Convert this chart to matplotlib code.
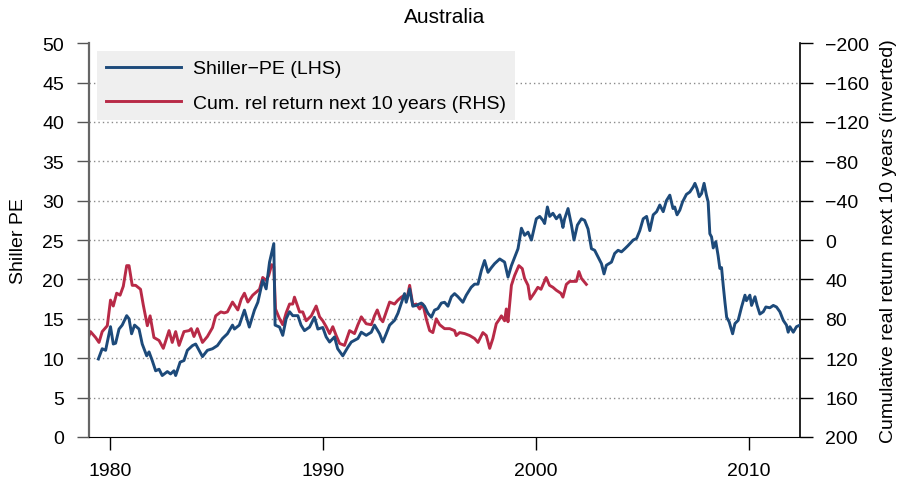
import matplotlib.pyplot as plt
import numpy as np

plt.rcParams['font.family'] = ['Liberation Sans', 'DejaVu Sans']

# Shiller PE (left axis)
pe_years = [1979.44, 1979.62, 1979.78, 1980.01, 1980.14, 1980.25, 1980.41, 1980.56, 1980.77, 1980.88,
            1981.00, 1981.14, 1981.35, 1981.50, 1981.71, 1981.82, 1981.97, 1982.13, 1982.29, 1982.44,
            1982.68, 1982.83, 1982.99, 1983.07, 1983.28, 1983.46, 1983.62, 1983.86, 1984.01, 1984.33,
            1984.56, 1984.80, 1985.03, 1985.27, 1985.50, 1985.74, 1985.83, 1986.06, 1986.30, 1986.53,
            1986.77, 1986.93, 1987.16, 1987.32, 1987.48, 1987.68, 1987.74, 1987.95, 1988.10, 1988.26,
            1988.42, 1988.57, 1988.81, 1988.96, 1989.12, 1989.36, 1989.59, 1989.75, 1989.98, 1990.14,
            1990.30, 1990.53, 1990.68, 1990.92, 1991.16, 1991.32, 1991.63, 1991.79, 1992.02, 1992.26,
            1992.41, 1992.65, 1992.80, 1992.96, 1993.12, 1993.35, 1993.51, 1993.67, 1993.82, 1993.90,
            1994.06, 1994.21, 1994.37, 1994.61, 1994.76, 1994.92, 1995.08, 1995.23, 1995.39, 1995.55,
            1995.70, 1995.86, 1996.02, 1996.17, 1996.33, 1996.56, 1996.72, 1996.95, 1997.11, 1997.27,
            1997.43, 1997.58, 1997.74, 1997.90, 1998.05, 1998.29, 1998.52, 1998.68, 1998.84, 1998.99,
            1999.15, 1999.31, 1999.46, 1999.62, 1999.78, 2000.01, 2000.17, 2000.32, 2000.40, 2000.53,
            2000.64, 2000.79, 2000.95, 2001.11, 2001.19, 2001.26, 2001.34, 2001.50, 2001.66, 2001.78,
            2001.94, 2002.13, 2002.28, 2002.44, 2002.60, 2002.75, 2002.91, 2003.07, 2003.19, 2003.30,
            2003.54, 2003.69, 2003.85, 2004.01, 2004.17, 2004.32, 2004.56, 2004.72, 2004.87, 2005.03,
            2005.19, 2005.34, 2005.50, 2005.66, 2005.81, 2005.97, 2006.12, 2006.28, 2006.43, 2006.51,
            2006.62, 2006.75, 2006.88, 2007.06, 2007.22, 2007.38, 2007.46, 2007.56, 2007.66, 2007.77,
            2007.89, 2008.00, 2008.08, 2008.16, 2008.24, 2008.32, 2008.44, 2008.55, 2008.63, 2008.71,
            2008.79, 2008.87, 2008.95, 2009.07, 2009.23, 2009.34, 2009.49, 2009.65, 2009.81, 2009.88,
            2010.04, 2010.12, 2010.28, 2010.38, 2010.51, 2010.67, 2010.79, 2010.98, 2011.14, 2011.29,
            2011.45, 2011.61, 2011.76, 2011.84, 2011.92, 2012.08, 2012.23, 2012.39]
pe_values = [9.9, 11.2, 11.0, 14.0, 11.8, 11.9, 13.7, 14.2, 15.4, 15.0,
             13.1, 14.2, 13.7, 11.8, 10.3, 10.8, 9.7, 8.4, 8.6, 7.8,
             8.3, 8.0, 8.4, 7.8, 9.5, 9.7, 11.0, 11.6, 11.8, 10.2,
             11.0, 11.2, 11.6, 12.5, 13.1, 14.2, 13.7, 14.2, 16.1, 13.95,
             16.1, 17.1, 19.9, 18.8, 22.2, 24.55, 14.2, 13.95, 12.9, 15.0,
             15.9, 15.4, 15.4, 14.2, 13.5, 13.95, 15.2, 13.7, 13.9, 12.7,
             12.05, 12.7, 11.2, 10.3, 11.4, 12.05, 12.5, 13.3, 12.9, 13.3,
             14.2, 13.1, 12.05, 13.1, 14.2, 14.8, 15.7, 17.0, 18.2, 17.1,
             18.8, 16.6, 16.7, 17.0, 16.6, 15.7, 15.2, 16.1, 16.3, 17.0,
             17.1, 16.6, 17.8, 18.2, 17.8, 17.1, 18.0, 19.0, 19.4, 19.4,
             21.15, 22.4, 20.9, 21.5, 22.0, 22.6, 22.2, 20.3, 21.75, 22.8,
             23.9, 26.5, 25.6, 26.0, 25.0, 27.7, 28.0, 27.5, 27.1, 29.2,
             28.0, 28.4, 27.7, 28.2, 27.5, 26.6, 27.7, 29.0, 26.9, 25.0,
             26.9, 27.7, 27.5, 26.4, 23.9, 23.7, 22.85, 22.0, 20.7, 21.8,
             22.2, 23.3, 23.7, 23.5, 23.9, 24.3, 25.0, 25.2, 26.2, 27.7,
             28.0, 26.2, 28.2, 28.6, 29.45, 28.6, 30.0, 30.7, 29.0, 29.2,
             28.2, 28.8, 29.85, 30.8, 31.1, 31.75, 32.2, 31.5, 30.5, 30.9,
             32.2, 30.7, 29.85, 25.8, 25.4, 24.0, 24.8, 23.0, 21.4, 21.5,
             19.2, 17.1, 15.2, 14.6, 13.1, 14.4, 14.8, 16.5, 18.0, 17.3,
             18.0, 16.7, 17.8, 16.7, 15.6, 15.9, 16.5, 16.4, 16.7, 16.5,
             15.9, 14.8, 14.2, 13.3, 14.0, 13.3, 14.0, 14.2]

# Cumulative relative return next 10 years (right axis, inverted)
ret_years = [1978.92, 1979.07, 1979.31, 1979.47, 1979.62, 1979.86, 1980.01, 1980.14, 1980.30, 1980.46,
             1980.61, 1980.77, 1980.88, 1981.03, 1981.19, 1981.42, 1981.55, 1981.74, 1981.87, 1982.05,
             1982.29, 1982.49, 1982.76, 1982.91, 1983.07, 1983.23, 1983.46, 1983.70, 1983.80, 1983.93,
             1984.09, 1984.33, 1984.56, 1984.80, 1984.95, 1985.19, 1985.35, 1985.50, 1985.74, 1985.99,
             1986.15, 1986.30, 1986.46, 1986.69, 1986.85, 1987.01, 1987.16, 1987.32, 1987.44, 1987.58,
             1987.68, 1987.76, 1987.95, 1988.10, 1988.26, 1988.42, 1988.57, 1988.65, 1988.89, 1989.04,
             1989.20, 1989.44, 1989.67, 1989.83, 1989.98, 1990.14, 1990.30, 1990.45, 1990.61, 1990.77,
             1991.00, 1991.24, 1991.47, 1991.63, 1991.79, 1992.02, 1992.26, 1992.41, 1992.54, 1992.69,
             1992.80, 1992.96, 1993.12, 1993.35, 1993.51, 1993.67, 1993.82, 1993.93, 1994.06, 1994.21,
             1994.37, 1994.53, 1994.68, 1994.84, 1995.00, 1995.15, 1995.31, 1995.47, 1995.70, 1995.94,
             1996.17, 1996.25, 1996.41, 1996.64, 1996.88, 1997.11, 1997.27, 1997.50, 1997.66, 1997.82,
             1997.97, 1998.13, 1998.29, 1998.37, 1998.52, 1998.60, 1998.68, 1998.84, 1998.99, 1999.19,
             1999.35, 1999.46, 1999.62, 1999.72, 1999.91, 2000.08, 2000.23, 2000.47, 2000.63, 2000.79,
             2000.95, 2001.16, 2001.26, 2001.42, 2001.58, 2001.73, 2001.89, 2002.01, 2002.13, 2002.36]
ret_values = [102, 93, 99, 104, 93, 87, 61, 67, 54, 56,
              47, 26, 26, 46, 46, 50, 66, 87, 77, 99,
              102, 110, 92, 104, 93, 107, 93, 92, 90, 98,
              90, 104, 98, 89, 77, 73, 74, 73, 63, 71,
              60, 54, 63, 56, 53, 50, 38, 41, 36, 25,
              27, 70, 80, 86, 74, 65, 65, 58, 73, 73,
              82, 77, 67, 78, 82, 88, 95, 88, 97, 105,
              107, 92, 95, 86, 78, 85, 86, 77, 71, 80,
              83, 73, 63, 65, 61, 58, 56, 60, 46, 66,
              65, 70, 65, 80, 92, 94, 80, 86, 90, 90,
              92, 97, 94, 95, 97, 100, 104, 94, 97, 110,
              100, 85, 80, 77, 82, 70, 83, 46, 36, 26,
              29, 39, 46, 60, 54, 48, 50, 38, 46, 48,
              51, 54, 58, 45, 42, 42, 42, 32, 39, 45]

pe_ticks = np.arange(0, 51, 5)
ret_ticks = np.arange(-200, 201, 40)
year_ticks = [1980, 1990, 2000, 2010]

blue = '#1d4a7a'
red = '#b82a47'

fig, ax = plt.subplots(figsize=(8.99, 4.85), dpi=100)
fig.subplots_adjust(left=0.099, right=0.89, top=0.909, bottom=0.097)
ax2 = ax.twinx()

ax.set_zorder(ax2.get_zorder() + 1)
ax.patch.set_visible(False)

# dotted grid, not on 0 or 50
for v in pe_ticks[1:-1]:
    ax2.axhline(200 - v * 8, color='#8a8a8a', lw=1.0, linestyle=(0, (1, 2.2)), zorder=0)

ax.plot(pe_years, pe_values, color=blue, lw=2.1, label='Shiller\u2212PE (LHS)')
ax2.plot(ret_years, ret_values, color=red, lw=2.1)
# empty line so both series sit in one legend
ax.plot([], [], color=red, lw=2.1, label='Cum. rel return next 10 years (RHS)')

ax.set_xlim(1979.0, 2012.4)
ax.set_ylim(0, 50)
ax.set_yticks(pe_ticks)
ax.set_xticks(year_ticks)

ax2.set_ylim(200, -200)
ax2.set_yticks(ret_ticks)

ax.set_title('Australia', fontsize=15, pad=15)
ax.set_ylabel('Shiller PE', fontsize=14, labelpad=11)
ax2.set_ylabel('Cumulative real return next 10 years (inverted)', fontsize=14, labelpad=8)

for a in (ax, ax2):
    a.spines['top'].set_visible(False)
    a.tick_params(labelsize=14, length=9, width=1, pad=9)
ax.tick_params(axis='y', colors='#555555', labelcolor='black')
ax.spines['left'].set_color('#666666')
ax.spines['left'].set_linewidth(1.6)
ax.spines['right'].set_visible(False)
ax2.spines['left'].set_visible(False)
ax2.spines['bottom'].set_visible(False)
ax2.spines['right'].set_linewidth(1.2)

leg = ax.legend(loc='upper left', bbox_to_anchor=(0.011, 0.98), borderaxespad=0, fontsize=14,
                frameon=True, fancybox=False, handlelength=3.9, handletextpad=0.6,
                borderpad=0.45, labelspacing=0.85)
leg.get_frame().set_facecolor('#efefef')
leg.get_frame().set_edgecolor('none')
leg.get_frame().set_alpha(1)

fig.savefig('out.png', dpi=100)
